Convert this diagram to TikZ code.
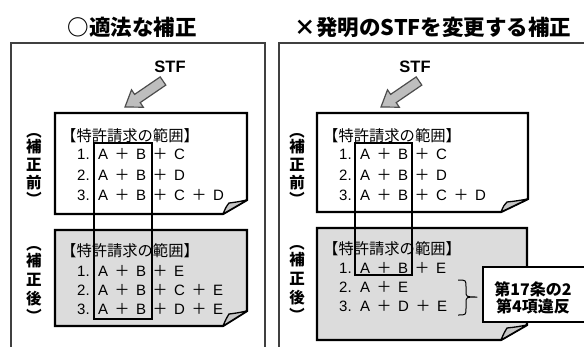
\documentclass[tikz,border=0pt]{standalone}
\usepackage{fontspec}
\setmainfont{Liberation Sans}
\newfontfamily\jp{Noto Sans CJK JP}
\definecolor{docgray}{HTML}{DCDCDC}
\definecolor{arrowfill}{HTML}{BEBEBE}
\definecolor{arrowline}{HTML}{4D4D4D}
\definecolor{panelline}{HTML}{404040}
\newcommand\pl{\hspace{6.5pt}{\jp ＋}\hspace{6.5pt}}
\newcommand\nm[1]{#1.\hspace{8.5pt}}
\begin{document}
\begin{tikzpicture}[x=1pt,y=-1pt,
  panel/.style={draw=panelline, line width=1.3pt},
  docw/.style={draw=black, line width=2.2pt, line join=miter, fill=white},
  docg/.style={draw=black, line width=2.2pt, line join=miter, fill=docgray},
  fold/.style={draw=black, line width=1.3pt, fill=gray!45, line join=round},
  frame/.style={draw=black, line width=2.2pt},
  bigarrow/.style={draw=arrowline, line width=1.2pt, fill=arrowfill, line join=miter},
  title/.style={font=\jp\bfseries\fontsize{21.5}{21.5}\selectfont, inner sep=0},
  stf/.style={font=\bfseries\fontsize{16.5}{16.5}\selectfont, inner sep=0},
  vlab/.style={font=\jp\bfseries\fontsize{15.5}{15.5}\selectfont, inner sep=0},
  vpar/.style={font=\jp\bfseries\fontsize{15.5}{15.5}\selectfont, inner sep=0, rotate=-90},
  hdr/.style={anchor=base west, inner sep=0, font=\jp\fontsize{15.3}{15.3}\selectfont},
  cline/.style={anchor=base west, inner sep=0, font=\fontsize{15}{15}\selectfont},
  callout/.style={draw=black, line width=1.2pt, fill=white},
  callt/.style={font=\jp\bfseries\fontsize{16}{16}\selectfont, inner sep=0}
]
\useasboundingbox (0,0) rectangle (584,346);
\clip (0,0) rectangle (584,346);

% titles
\node[title] (t1) at (132,27) {○適法な補正};
\node[title] (t2) at (433,27) {×発明のSTFを変更する補正};

% panels
\draw[panel] (11,360) -- (11,43) -- (265,43) -- (265,360);
\draw[panel] (279,360) -- (279,43) -- (600,43);

% STF labels
\node[stf] (s1) at (170,67) {STF};
\node[stf] (s2) at (415,67) {STF};

% arrows
\draw[bigarrow] (165.8,85.1) -- (140.2,102.6) -- (143.3,107.2) -- (125,107) -- (131.5,89.8) -- (134.6,94.4) -- (160.2,76.9) -- cycle;
\begin{scope}[xshift=256pt]
\draw[bigarrow] (165.8,85.1) -- (140.2,102.6) -- (143.3,107.2) -- (125,107) -- (131.5,89.8) -- (134.6,94.4) -- (160.2,76.9) -- cycle;
\end{scope}

% vertical labels left
\node[vpar] (la1) at (34,131) {（};
\node[vlab] (la2) at (34,147) {補};
\node[vlab] (la3) at (34,165) {正};
\node[vlab] (la4) at (34,183) {前};
\node[vpar] (la5) at (34,199) {）};
\node[vpar] (lb1) at (34,244) {（};
\node[vlab] (lb2) at (34,261) {補};
\node[vlab] (lb3) at (34,280) {正};
\node[vlab] (lb4) at (34,299) {後};
\node[vpar] (lb5) at (34,316) {）};
% vertical labels right
\node[vpar] (ra1) at (297,131) {（};
\node[vlab] (ra2) at (297,147) {補};
\node[vlab] (ra3) at (297,165) {正};
\node[vlab] (ra4) at (297,183) {前};
\node[vpar] (ra5) at (297,199) {）};
\node[vpar] (rb1) at (297,243) {（};
\node[vlab] (rb2) at (297,260) {補};
\node[vlab] (rb3) at (297,279) {正};
\node[vlab] (rb4) at (297,298) {後};
\node[vpar] (rb5) at (297,315) {）};

% left top document
\draw[docw] (55,113) -- (247,113) -- (247,200) -- (223,214) -- (55,214) -- cycle;
\draw[fold] (223,214) .. controls (226,207) .. (229,203) .. controls (237,202) .. (247,200) -- cycle;
\node[hdr] (lh1) at (61,141) {【特許請求の範囲】};
\node[cline] (l11) at (77,159) {\nm{1}A\pl B\pl C};
\node[cline] (l12) at (77,180) {\nm{2}A\pl B\pl D};
\node[cline] (l13) at (77,200) {\nm{3}A\pl B\pl C\pl D};

% left bottom document
\draw[docg] (55,230) -- (247,230) -- (247,311) -- (223,326) -- (55,326) -- cycle;
\draw[fold] (223,326) .. controls (226,319) .. (229,314) .. controls (237,313) .. (247,311) -- cycle;
\node[hdr] (lh2) at (61,256) {【特許請求の範囲】};
\node[cline] (l21) at (77,276) {\nm{1}A\pl B\pl E};
\node[cline] (l22) at (77,295) {\nm{2}A\pl B\pl C\pl E};
\node[cline] (l23) at (77,314) {\nm{3}A\pl B\pl D\pl E};

% left frame
\draw[frame] (94,143) rectangle (152,319);

% right top document
\draw[docw] (317,113) -- (528,113) -- (528,199) -- (501,212) -- (317,212) -- cycle;
\draw[fold] (501,212) .. controls (504,205) .. (507,202) .. controls (516,201) .. (528,199) -- cycle;
\node[hdr] (rh1) at (323,141) {【特許請求の範囲】};
\node[cline] (r11) at (339,159) {\nm{1}A\pl B\pl C};
\node[cline] (r12) at (339,180) {\nm{2}A\pl B\pl D};
\node[cline] (r13) at (339,200) {\nm{3}A\pl B\pl C\pl D};

% right bottom document
\draw[docg] (317,228) -- (527,228) -- (527,325) -- (501,340) -- (317,340) -- cycle;
\draw[fold] (501,340) .. controls (504,333) .. (507,328) .. controls (516,327) .. (527,325) -- cycle;
\node[hdr] (rh2) at (323,254) {【特許請求の範囲】};
\node[cline] (r21) at (339,273) {\nm{1}A\pl B\pl E};
\node[cline] (r22) at (339,292) {\nm{2}A\pl E};
\node[cline] (r23) at (339,311) {\nm{3}A\pl D\pl E};

% right frame
\draw[frame] (355,143) rectangle (412,275);

% brace
\draw[line width=1pt, line join=round] (458,280) .. controls (466,280) .. (466,287) -- (466,291) .. controls (466,297) .. (477,297) .. controls (466,297) .. (466,303) -- (466,308) .. controls (466,315) .. (458,315);

% callout
\draw[callout] (483,267) rectangle (600,322);
\node[callt] (c1) at (533,289) {第17条の2};
\node[callt] (c2) at (533,306) {第4項違反};
\end{tikzpicture}
\end{document}
